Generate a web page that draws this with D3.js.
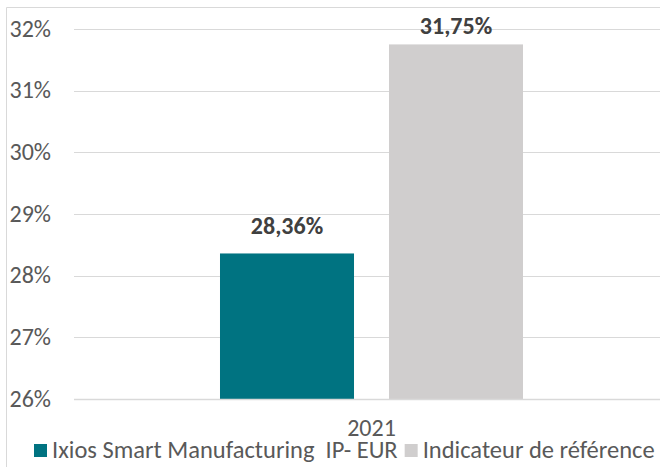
<!DOCTYPE html>
<html>
<head>
<meta charset="utf-8">
<script src="https://cdnjs.cloudflare.com/ajax/libs/d3/7.8.5/d3.min.js"></script>
<style>
  body { margin: 0; background: #fff; }
  svg { display: block; font-family: Calibri, Carlito, "Open Sans", sans-serif; }
</style>
</head>
<body>
<div id="chart"></div>
<script>
var categories = ["2021"];
var series = ["Ixios Smart Manufacturing  IP- EUR", "Indicateur de référence"];
var values = [28.36, 31.75];
var labels = ["28,36%", "31,75%"];
var colors = ["#007381", "#D0CECE"];
var yTicks = [26, 27, 28, 29, 30, 31, 32];

var W = 660, H = 467;
var margin = {top: 29, left: 74, bottom: 68};
var plotRight = 669;   // chart is cropped on the right in the reference

var svg = d3.select("#chart")
  .append("svg")
    .attr("width", W)
    .attr("height", H);

// outer chart border (only left and top visible)
svg.append("path")
  .attr("d", "M6.5," + H + "V7.5H" + W)
  .attr("fill", "none")
  .attr("stroke", "#d9d9d9")
  .attr("stroke-width", 1);

var y = d3.scaleLinear()
  .domain([26, 32])
  .range([H - margin.bottom, margin.top]);

var x0 = d3.scaleBand()
  .domain(categories)
  .range([margin.left, plotRight])
  .paddingInner(0)
  .paddingOuter(0.4818);

var x1 = d3.scaleBand()
  .domain(series)
  .range([0, x0.bandwidth()])
  .paddingInner(0.207)
  .paddingOuter(0);

// gridlines
svg.append("g")
  .selectAll("line")
  .data(yTicks)
  .enter()
  .append("line")
    .attr("x1", margin.left)
    .attr("x2", plotRight)
    .attr("y1", function(d) { return Math.round(y(d)) + 0.5; })
    .attr("y2", function(d) { return Math.round(y(d)) + 0.5; })
    .attr("stroke", "#d9d9d9")
    .attr("stroke-width", 1);

// y labels
svg.append("g")
  .selectAll("text")
  .data(yTicks)
  .enter()
  .append("text")
    .attr("x", 51)
    .attr("y", function(d) { return y(d) + 7.5; })
    .attr("text-anchor", "end")
    .attr("font-size", "24px")
    .attr("fill", "#595959")
    .text(function(d) { return d + "%"; });

// bars
var g = svg.append("g")
  .attr("transform", "translate(" + x0(categories[0]) + ",0)");

g.selectAll("rect")
  .data(values)
  .enter()
  .append("rect")
    .attr("x", function(d, i) { return x1(series[i]); })
    .attr("y", function(d) { return y(d); })
    .attr("width", x1.bandwidth())
    .attr("height", function(d) { return y(26) - y(d); })
    .attr("fill", function(d, i) { return colors[i]; });

// data labels, kept inside the plot area at the top
g.selectAll(".lbl")
  .data(values)
  .enter()
  .append("text")
    .attr("class", "lbl")
    .attr("x", function(d, i) { return x1(series[i]) + x1.bandwidth() / 2; })
    .attr("y", function(d) { return Math.max(y(d) - 19, y(32) + 4.5); })
    .attr("text-anchor", "middle")
    .attr("font-size", "24px")
    .attr("font-weight", "bold")
    .attr("fill", "#404040")
    .text(function(d, i) { return labels[i]; });

// bottom axis line
svg.append("line")
  .attr("x1", margin.left)
  .attr("x2", plotRight)
  .attr("y1", Math.round(y(26)) + 0.5)
  .attr("y2", Math.round(y(26)) + 0.5)
  .attr("stroke", "#d9d9d9")
  .attr("stroke-width", 1.5);

// category label
svg.append("text")
  .attr("x", x0(categories[0]) + x0.bandwidth() / 2)
  .attr("y", 435.5)
  .attr("text-anchor", "middle")
  .attr("font-size", "24px")
  .attr("fill", "#595959")
  .text(categories[0]);

// legend
var legend = svg.append("g");
var lx = 34;
series.forEach(function(s, i) {
  legend.append("rect")
    .attr("x", lx)
    .attr("y", 444)
    .attr("width", 13)
    .attr("height", 13)
    .attr("fill", colors[i]);
  var t = legend.append("text")
    .attr("x", lx + 18)
    .attr("y", 457.5)
    .attr("font-size", "24.5px")
    .attr("fill", "#595959")
    .attr("xml:space", "preserve")
    .style("white-space", "pre")
    .text(s);
  lx = lx + 18 + t.node().getComputedTextLength() + 7;
});
</script>
</body>
</html>
